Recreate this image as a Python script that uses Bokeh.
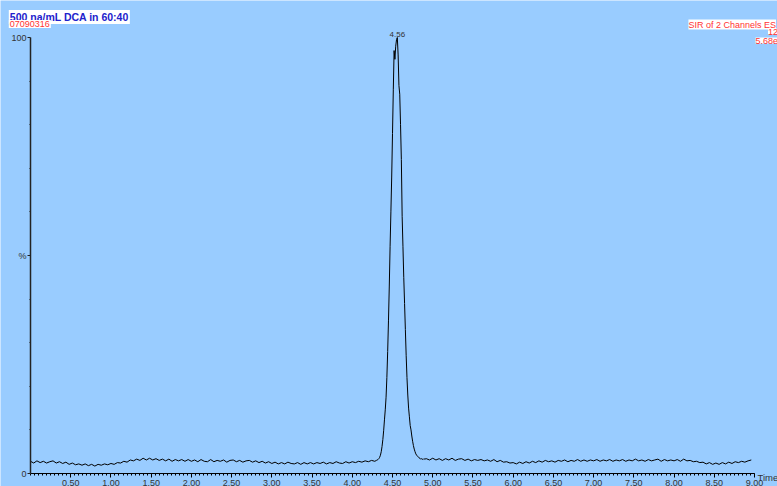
import numpy as np
from bokeh.plotting import figure
from bokeh.models import FixedTicker, Label, ColumnDataSource
from bokeh.core.properties import value
from bokeh.embed import file_html
from bokeh.resources import INLINE

# ---------------- data (relative intensity, %) ----------------
pre_start, pre_step = 0.00, 0.04
pre_pct = [
    2.8, 2.4, 2.9, 2.5, 2.8, 2.4, 2.7, 2.9, 2.4, 2.7, 2.3, 2.6, 2.1,
    2.4, 2.0, 2.2, 1.9, 2.2, 1.8, 2.1, 1.7, 2.1, 1.9, 2.2, 2.0,
    2.3, 2.1, 2.5, 2.4, 2.8, 2.6, 3.1, 2.9, 3.3, 3.0, 3.5, 3.1, 3.5,
    3.1, 3.4, 3.0, 3.3, 2.9, 3.3, 2.8, 3.2, 2.9, 3.2, 2.8, 3.2,
    2.8, 3.1, 2.7, 3.2, 2.8, 2.7, 3.2, 2.7, 3.0, 2.8, 3.1, 2.6, 3.0,
    3.1, 2.7, 3.0, 2.6, 2.9, 3.0, 2.6, 2.9, 2.5, 2.8, 2.4, 2.7,
    2.3, 2.6, 2.2, 2.5, 2.2, 2.6, 2.3, 2.2, 2.5, 2.1, 2.5, 2.2, 2.5,
    2.2, 2.5, 2.3, 2.6, 2.2, 2.5, 2.3, 2.7, 2.4, 2.3, 2.7, 2.4,
    2.7, 2.5, 2.8, 2.6, 2.9, 2.7, 3.0, 2.8,
]

peak_start, peak_step = 4.30, 0.01
peak_pct = [
    3.0, 3.1, 3.2, 3.4, 3.7, 4.2, 5.0, 6.2, 7.8, 9.8,
    12.3, 14.6, 17.5, 22.0, 28.0, 35.0, 43.0, 52.0, 60.0, 68.0,
    78.0, 88.0, 97.0, 95.0, 98.0, 99.5, 100.0, 96.0, 89.0, 87.0,
    80.0, 72.0, 59.0, 52.0, 45.0, 39.0, 33.0, 27.0, 22.0, 18.0,
    15.0, 13.0, 11.0, 10.0, 8.6, 7.4, 6.4, 5.6, 5.0, 4.5,
    4.2, 4.0, 3.8, 3.6, 3.5, 3.3, 3.4, 3.3, 3.2, 3.4,
    3.3,
]

post_start, post_step = 4.92, 0.04
post_pct = [
    3.4, 3.1, 3.5, 3.1, 3.4, 3.0, 3.4, 3.1, 3.5, 3.0, 3.3, 3.4, 3.0, 3.3, 2.9,
    3.2, 3.0, 3.2, 2.9, 3.1, 2.8, 3.2, 2.7, 3.0, 2.6, 2.7, 2.4,
    2.5, 2.2, 2.6, 2.3, 2.7, 2.4, 2.8, 2.5,
    2.9, 2.6, 3.0, 2.7, 2.9, 2.6, 3.0, 2.8, 3.1, 2.7, 3.0, 2.8, 3.2, 2.8, 3.1, 2.8, 3.1,
    2.9, 3.2, 2.8, 3.1, 2.9, 3.2, 2.8, 3.1, 2.9, 3.2, 2.8, 3.1, 2.9, 3.3, 2.9, 3.1,
    2.8, 3.2, 2.9, 3.1, 3.3, 2.8, 3.2, 2.9, 3.1,
    2.9, 3.2, 2.8, 3.3, 2.9, 3.0, 2.7, 2.8, 2.5, 2.6,
    2.2, 2.5, 2.1, 2.4, 2.1, 2.5, 2.2, 2.6,
    2.3, 2.7, 2.5, 2.8, 2.6, 2.9, 3.1,
]

peak_rt = [4.56]
peak_top = [100.0]
peak_labels = ["4.56"]

x_ticks = [0.5, 1.0, 1.5, 2.0, 2.5, 3.0, 3.5, 4.0, 4.5, 5.0, 5.5, 6.0, 6.5, 7.0, 7.5, 8.0, 8.5, 9.0]
x_tick_labels = ["0.50", "1.00", "1.50", "2.00", "2.50", "3.00", "3.50", "4.00", "4.50",
                 "5.00", "5.50", "6.00", "6.50", "7.00", "7.50", "8.00", "8.50", "9.00"]
y_ticks = [0, 50, 100]
y_tick_labels = ["0", "%", "100"]

title_text = "500 na/mL DCA in 60:40"
sample_text = "07090316"
info_texts = ["SIR of 2 Channels ES", "12", "5.68e"]
x_axis_title = "Time"

# ---------------- build series ----------------
def grid(start, step, n):
    return np.round(start + step * np.arange(n), 3)

t = np.concatenate([grid(pre_start, pre_step, len(pre_pct)),
                    grid(peak_start, peak_step, len(peak_pct)),
                    grid(post_start, post_step, len(post_pct))])
y = np.array(pre_pct + peak_pct + post_pct)
src = ColumnDataSource(dict(t=t, y=y))

FONT = "Liberation Sans"
BG = "#99CCFF"
W, H = 777, 486
x0_px, x9_px = 30.0, 754.0
y0_px, y100_px = 473.0, 37.0
ppx = (x9_px - x0_px) / 9.0
ppy = (y0_px - y100_px) / 100.0
xr = (-x0_px / ppx, (W - x0_px) / ppx)
yr = (-(H - y0_px) / ppy, y0_px / ppy)

def dx(px):
    return (px - x0_px) / ppx

def dy(py):
    return (y0_px - py) / ppy

p = figure(width=W, height=H, x_range=xr, y_range=yr, output_backend="svg",
           toolbar_location=None, min_border=0,
           background_fill_color=BG, border_fill_color=BG, outline_line_color=None)
p.grid.visible = False

p.line("t", "y", source=src, line_color="black", line_width=1)

# axes drawn inside the frame at the data origin
xa = p.xaxis[0]
xa.fixed_location = 0
xa.bounds = (0, 9)
xa.ticker = FixedTicker(ticks=x_ticks, minor_ticks=[round(i * 0.05, 2) for i in range(181)])
xa.major_label_overrides = {v: s for v, s in zip(x_ticks, x_tick_labels)}
xa.axis_line_color = "black"
xa.axis_line_width = 1
xa.major_tick_line_color = "black"
xa.minor_tick_line_color = "black"
xa.major_tick_in = 0
xa.major_tick_out = 4
xa.minor_tick_in = 0
xa.minor_tick_out = 2
xa.major_label_standoff = 2
xa.major_label_text_font = FONT
xa.major_label_text_font_size = "9px"
xa.major_label_text_color = "#333333"

ya = p.yaxis[0]
ya.fixed_location = 0
ya.bounds = (0, 100)
ya.ticker = FixedTicker(ticks=y_ticks, minor_ticks=[10, 20, 30, 40, 60, 70, 80, 90])
ya.major_label_overrides = {v: s for v, s in zip(y_ticks, y_tick_labels)}
ya.axis_line_color = "#222222"
ya.axis_line_width = 1.5
ya.major_tick_line_color = "#222222"
ya.minor_tick_line_color = "#222222"
ya.major_tick_in = 0
ya.major_tick_out = 3
ya.minor_tick_in = 0
ya.minor_tick_out = 1
ya.major_label_standoff = 1
ya.major_label_text_font = FONT
ya.major_label_text_font_size = "9px"
ya.major_label_text_color = "#333333"

# peak annotation
p.text(x=peak_rt, y=peak_top, text=peak_labels, text_font=value(FONT),
       text_font_size="8px", text_color="#333333", text_align="center",
       text_baseline="bottom", y_offset=-1)

# header labels
p.add_layout(Label(x=dx(8.3), y=dy(9.5), text=title_text, text_font=FONT,
                   text_font_size="10.5px", text_font_style="bold", text_color="#2222CC",
                   text_baseline="top", text_align="left",
                   background_fill_color="white", padding=1))
p.add_layout(Label(x=dx(8.3), y=dy(19.5), text=sample_text, text_font=FONT,
                   text_font_size="9px", text_color="#FF3333",
                   text_baseline="top", text_align="left",
                   background_fill_color="white", padding=1))
info_right = [775.5, 777.5, 777.5]
info_top = [19.0, 28.0, 37.0]
for txt, rx, ty in zip(info_texts, info_right, info_top):
    p.add_layout(Label(x=dx(rx), y=dy(ty), text=txt, text_font=FONT,
                       text_font_size="9px", text_color="#FF3333",
                       text_baseline="top", text_align="right",
                       background_fill_color="white", padding=0))

p.add_layout(Label(x=dx(757), y=dy(477), text=x_axis_title, text_font=FONT,
                   text_font_size="9.5px", text_color="#333333",
                   text_baseline="alphabetic", text_align="left"))

open("out.html", "w").write(file_html(p, INLINE))
